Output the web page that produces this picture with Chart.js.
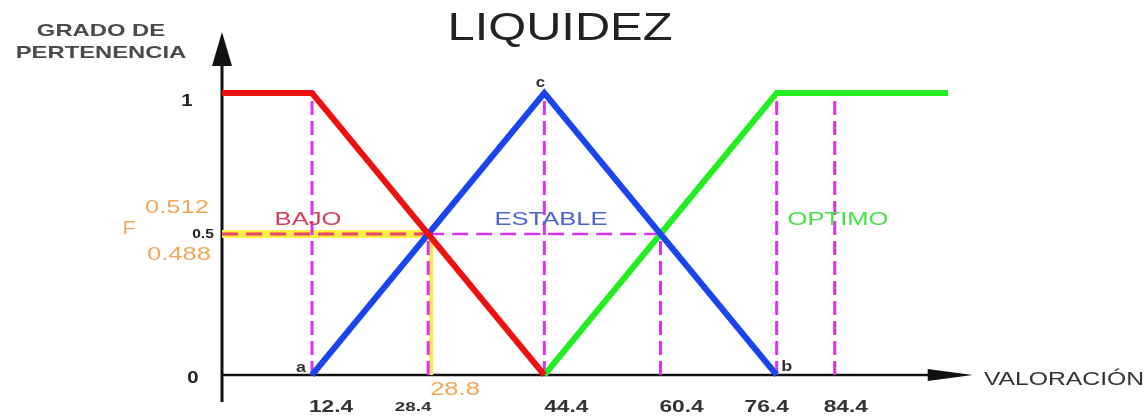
<!DOCTYPE html>
<html>
<head>
<meta charset="utf-8">
<script src="https://cdn.jsdelivr.net/npm/chart.js@4"></script>
<style>
  html, body { margin: 0; padding: 0; background: #fff; }
  #wrap { width: 1147px; height: 416px; position: relative; }
</style>
</head>
<body>
<div id="wrap"><canvas id="grafico"></canvas></div>
<script>
// funciones de pertenencia
const bajoX = [0, 12.4, 44.4];
const bajoY = [1, 1, 0];
const estableX = [12.4, 44.4, 76.4];
const estableY = [0, 1, 0];
const optimoX = [44.4, 76.4, 100];
const optimoY = [0, 1, 1];

// guias verticales (x, altura)
const guiaX = [12.4, 28.4, 44.4, 60.4, 76.4, 84.4];
const guiaAlto = [1, 0.5, 1, 0.5, 1, 1];

// corte en F
const corteX = 28.8;
const corteY = 0.5;
const cruceX = 28.4;
const corteHastaX = 60.4;

const ticksX = ['12.4', '28.4', '44.4', '60.4', '76.4', '84.4'];
const ticksY = ['1', '0.5', '0'];
const etiquetasF = ['0.512', 'F', '0.488'];

function puntos(xs, ys) {
    return xs.map((x, i) => ({ x: x, y: ys[i] }));
}

const guias = [];
guiaX.forEach((x, i) => {
    guias.push({ x: x, y: 0 }, { x: x, y: guiaAlto[i] }, { x: x, y: null });
});

const FUENTE = "'Liberation Sans', Arial, sans-serif";

// texto estirado a lo ancho, como en la imagen original
function texto(c, s, x, y, font, color, sx) {
    c.save();
    c.translate(x, y);
    c.scale(sx || 1.42, 1);
    c.font = font + ' ' + FUENTE;
    c.fillStyle = color;
    c.textAlign = 'center';
    c.textBaseline = 'middle';
    c.fillText(s, 0, 0);
    c.restore();
}

const ctx = document.getElementById("grafico").getContext("2d");

const dibujo = {
    id: 'dibujo',
    beforeDatasetsDraw(chart) {
        const c = chart.ctx;
        const px = v => chart.scales.x.getPixelForValue(v);
        const py = v => chart.scales.y.getPixelForValue(v);
        c.save();
        c.strokeStyle = '#111';
        c.fillStyle = '#111';
        // eje y
        c.lineWidth = 3;
        c.beginPath();
        c.moveTo(px(0), py(-0.096));
        c.lineTo(px(0), 60);
        c.stroke();
        c.beginPath();
        c.moveTo(px(0), 32);
        c.lineTo(px(0) - 10, 66);
        c.lineTo(px(0) + 10, 66);
        c.closePath();
        c.fill();
        // eje x
        c.lineWidth = 2.5;
        c.beginPath();
        c.moveTo(px(0), py(0));
        c.lineTo(px(98), py(0));
        c.stroke();
        c.beginPath();
        c.moveTo(px(103.4), py(0));
        c.lineTo(px(97.2), py(0) - 6);
        c.lineTo(px(97.2), py(0) + 6);
        c.closePath();
        c.fill();
        c.restore();
    },
    afterDatasetsDraw(chart) {
        const c = chart.ctx;
        const px = v => chart.scales.x.getPixelForValue(v);
        const py = v => chart.scales.y.getPixelForValue(v);

        texto(c, 'LIQUIDEZ', 560, 29, '39px', '#222', 1.25);
        texto(c, 'GRADO DE', 101, 31, 'bold 17px', '#4a4a4a', 1.4);
        texto(c, 'PERTENENCIA', 101, 53, 'bold 17px', '#4a4a4a', 1.4);
        texto(c, 'VALORACIÓN', 1064, 380, '19px', '#333', 1.3);

        // ticks eje y
        const yDx = [-35, -19, -29];
        ticksY.forEach((t, i) => {
            const v = parseFloat(t);
            if (t === '0.5') {
                texto(c, t, px(0) + yDx[i], py(v) + 1, 'bold 12px', '#222', 1.3);
            } else {
                texto(c, t, px(0) + yDx[i], py(v) + 8 - (v === 0 ? 5 : 0), 'bold 17px', '#222', 1.2);
            }
        });

        // ticks eje x
        const xDx = [19, -15, 22, 21, -10, 11];
        ticksX.forEach((t, i) => {
            const v = parseFloat(t);
            const chico = t === '28.4';
            texto(c, t, px(v) + xDx[i], py(0) + (chico ? 32 : 33),
                  chico ? 'bold 13px' : 'bold 16px', '#333', chico ? 1.45 : 1.42);
        });

        // letras a, b, c
        texto(c, 'a', px(12.4) - 11, py(0) - 7, 'bold 15px', '#333', 1.2);
        texto(c, 'b', px(76.4) + 10, py(0) - 8, 'bold 15px', '#333', 1.2);
        texto(c, 'c', px(44.4) - 4, py(1) - 10, 'bold 14px', '#333', 1.2);

        // etiquetas de conjuntos
        texto(c, 'BAJO', 308, 220, '18px', '#d0405a', 1.42);
        texto(c, 'ESTABLE', 551, 220, '18px', '#4a64c8', 1.42);
        texto(c, 'OPTIMO', 838, 220, '18px', '#48e048', 1.42);

        // F
        const fPos = [[177, 208], [129, 229], [179, 255]];
        etiquetasF.forEach((t, i) => {
            texto(c, t, fPos[i][0], fPos[i][1], '18px', '#f0a858', t === 'F' ? 1.2 : 1.42);
        });
        texto(c, '28.8', 455, 390, '18px', '#f0a858', 1.42);
    }
};

const chart = new Chart(ctx, {
    type: 'line',
    data: {
        datasets: [
            {
                label: 'corte horizontal',
                data: [{ x: 0, y: corteY }, { x: corteX, y: corteY }],
                borderColor: '#ffee44',
                borderWidth: 8,
                pointRadius: 0,
                clip: false,
                order: 6
            },
            {
                label: 'corte vertical',
                data: [{ x: corteX, y: corteY }, { x: corteX, y: 0 }],
                borderColor: '#ffe844',
                borderWidth: 4,
                pointRadius: 0,
                clip: false,
                order: 6
            },
            {
                label: 'BAJO',
                data: puntos(bajoX, bajoY),
                borderColor: '#ee1111',
                borderWidth: 6,
                pointRadius: 0,
                clip: false,
                order: 3
            },
            {
                label: 'ESTABLE',
                data: puntos(estableX, estableY),
                borderColor: '#1a44ee',
                borderWidth: 6,
                pointRadius: 0,
                clip: false,
                order: 3
            },
            {
                label: 'OPTIMO',
                data: puntos(optimoX, optimoY),
                borderColor: '#22ee22',
                borderWidth: 6,
                pointRadius: 0,
                clip: false,
                order: 3
            },
            {
                label: 'guias',
                data: guias,
                borderColor: '#dd33ee',
                borderWidth: 3,
                borderDash: [14, 6],
                pointRadius: 0,
                spanGaps: false,
                clip: false,
                order: 4
            },
            {
                label: 'guia 0.5 izquierda',
                data: [{ x: 0, y: corteY }, { x: cruceX, y: corteY }],
                borderColor: '#ee4466',
                borderWidth: 3,
                borderDash: [16, 8],
                pointRadius: 0,
                clip: false,
                order: 4
            },
            {
                label: 'guia 0.5 derecha',
                data: [{ x: cruceX, y: corteY }, { x: corteHastaX, y: corteY }],
                borderColor: '#dd33ee',
                borderWidth: 2.5,
                borderDash: [16, 8],
                pointRadius: 0,
                clip: false,
                order: 4
            }
        ]
    },
    options: {
        responsive: true,
        maintainAspectRatio: false,
        animation: false,
        layout: { padding: { left: 222, right: 199, top: 93, bottom: 41 } },
        plugins: {
            legend: { display: false },
            tooltip: { enabled: false }
        },
        scales: {
            x: { type: 'linear', min: 0, max: 100, display: false },
            y: { min: 0, max: 1, display: false }
        }
    },
    plugins: [dibujo]
});
</script>
</body>
</html>
